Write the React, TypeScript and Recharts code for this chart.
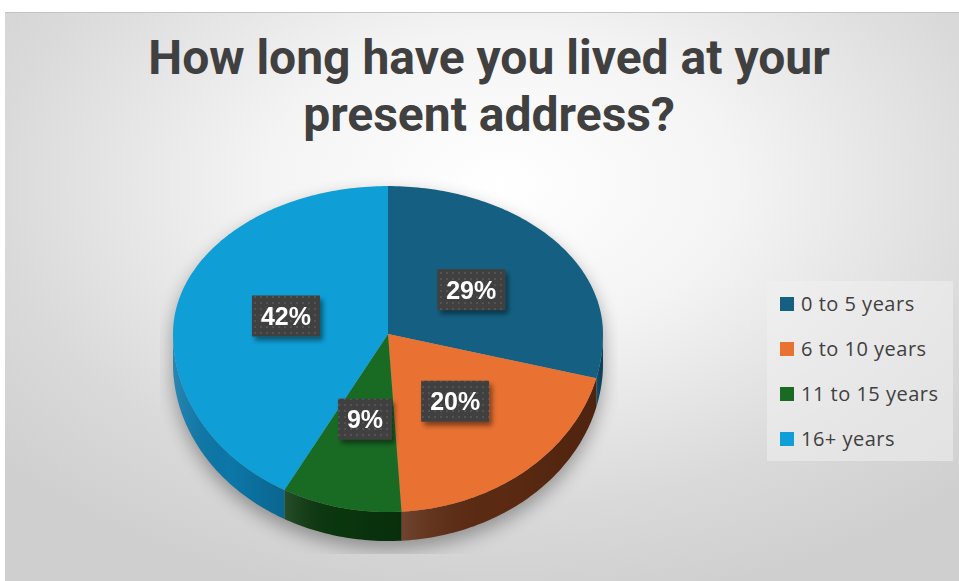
import { PieChart, Pie, Cell, Legend } from 'recharts';

const categories = ['0 to 5 years', '6 to 10 years', '11 to 15 years', '16+ years'];
const shares = [29, 20, 9, 42];
const titleLines = ['How long have you lived at your', 'present address?'];

const COLORS = ['#156082', '#E97132', '#196B24', '#0F9ED5'];
const SIDE_COLORS: Record<string, string> = {
  '#156082': '#0E4662',
  '#E97132': '#5C2A12',
  '#196B24': '#0A360D',
  '#0F9ED5': '#0C77A8',
};

const data = categories.map((name, i) => ({ name, value: shares[i] }));

// perspective squash: upper half flatter than lower half
const TOP = 0.688;
const BOT = 0.828;
const DEPTH = 29;

const pt = (cx: number, cy: number, r: number, deg: number) => {
  const rad = (deg * Math.PI) / 180;
  const s = Math.sin(rad);
  const ry = r * (s > 0 ? TOP : BOT);
  return [cx + r * Math.cos(rad), cy - ry * s];
};

const arcPts = (cx: number, cy: number, r: number, a: number, b: number) => {
  const out: number[][] = [];
  const n = Math.max(2, Math.ceil(Math.abs(b - a)));
  for (let i = 0; i <= n; i++) out.push(pt(cx, cy, r, a + ((b - a) * i) / n));
  return out;
};

const toPath = (p: number[][]) => p.map((q, i) => `${i ? 'L' : 'M'}${q[0].toFixed(2)},${q[1].toFixed(2)}`).join(' ');

const PieSlice = (props: any) => {
  const { cx, cy, outerRadius, startAngle, endAngle, fill } = props;
  const lo = Math.min(startAngle, endAngle);
  const hi = Math.max(startAngle, endAngle);
  const top = `M${cx},${cy} ` + toPath(arcPts(cx, cy, outerRadius, lo, hi)).replace('M', 'L') + ' Z';

  const sLo = Math.max(lo, -180);
  const sHi = Math.min(hi, 0);
  let side = '';
  if (sLo < sHi) {
    const upper = arcPts(cx, cy, outerRadius, sLo, sHi);
    const lower = upper.slice().reverse().map((q) => [q[0], q[1] + DEPTH]);
    side = toPath(upper.concat(lower)) + ' Z';
  }
  const first = hi >= 89.9;

  let outline = '';
  if (first) {
    const up = arcPts(cx, cy, outerRadius, 0, 180);
    const down = arcPts(cx, cy, outerRadius, 180, 360).map((q) => [q[0], q[1] + DEPTH]);
    outline = toPath(up.concat(down)) + ' Z';
  }

  return (
    <g>
      {first && (
        <g>
          <defs>
            <filter id="pieShadow" x="-20%" y="-20%" width="140%" height="140%">
              <feGaussianBlur stdDeviation="9" />
            </filter>
            <clipPath id="shadowClip">
              <rect x={cx - 228} y={cy - 240} width={458} height={460} />
            </clipPath>
            <pattern id="dots" width="6" height="6" patternUnits="userSpaceOnUse">
              <rect width="6" height="6" fill="#404040" />
              <circle cx="3" cy="3" r="0.9" fill="#5b5b5b" />
            </pattern>
            <filter id="boxShadow" x="-30%" y="-30%" width="160%" height="170%">
              <feGaussianBlur in="SourceAlpha" stdDeviation="2.5" />
              <feOffset dx="3" dy="4" result="b" />
              <feComponentTransfer>
                <feFuncA type="linear" slope="0.45" />
              </feComponentTransfer>
              <feMerge>
                <feMergeNode />
                <feMergeNode in="SourceGraphic" />
              </feMerge>
            </filter>
            <linearGradient id="sideShade" x1="0" y1="0" x2="1" y2="0">
              <stop offset="0" stopColor="#fff" stopOpacity="0.12" />
              <stop offset="0.5" stopColor="#000" stopOpacity="0" />
              <stop offset="1" stopColor="#000" stopOpacity="0.15" />
            </linearGradient>
          </defs>
          <g clipPath="url(#shadowClip)">
            <path
              d={outline}
              transform={`translate(0, 8)`}
              fill="#000"
              opacity={0.33}
              filter="url(#pieShadow)"
            />
          </g>
        </g>
      )}
      {side && <path d={side} fill={SIDE_COLORS[fill] || fill} />}
      {side && <path d={side} fill="url(#sideShade)" />}
      <path d={top} fill={fill} />
    </g>
  );
};

const SliceLabel = (props: any) => {
  const { cx, cy, midAngle, outerRadius, percent } = props;
  const [x, y] = pt(cx, cy, outerRadius * 0.49, midAngle);
  const txt = `${Math.round(percent * 100)}%`;
  const w = txt.length * 14 + 26;
  const h = 41;
  return (
    <g filter="url(#boxShadow)">
      <rect x={x - w / 2} y={y - h / 2} width={w} height={h} fill="url(#dots)" />
      <text
        x={x}
        y={y + 9}
        textAnchor="middle"
        fill="#ffffff"
        fontFamily="'Liberation Sans', Arial, sans-serif"
        fontWeight="bold"
        fontSize={25}
      >
        {txt}
      </text>
    </g>
  );
};

const LegendBox = () => (
  <div
    style={{
      width: 186,
      height: 180,
      background: 'rgba(240,240,240,0.55)',
      boxSizing: 'border-box',
      paddingLeft: 13,
    }}
  >
    {categories.map((name, i) => (
      <div key={name} style={{ display: 'flex', alignItems: 'center', height: 45 }}>
        <span style={{ width: 14, height: 14, background: COLORS[i], marginRight: 7, display: 'inline-block' }} />
        <span style={{ fontFamily: "'Open Sans', sans-serif", fontSize: 20, letterSpacing: 0.5, color: '#404040' }}>
          {name}
        </span>
      </div>
    ))}
  </div>
);

export default function App() {
  return (
    <div style={{ position: 'absolute', left: 0, top: 0, width: 959, height: 581, background: '#fff', overflow: 'hidden' }}>
      <div
        style={{
          position: 'absolute',
          left: 5,
          top: 12,
          width: 954,
          height: 569,
          borderTop: '1px solid #c4c4c4',
          background: 'radial-gradient(ellipse 70% 75% at 52% 30%, #ffffff 0%, #f4f4f4 35%, #dadada 75%, #cfcfcf 100%)',
        }}
      />
      {titleLines.map((t, i) => (
        <div
          key={i}
          style={{
            position: 'absolute',
            left: 0,
            width: 978,
            top: 30 + i * 57,
            textAlign: 'center',
            fontFamily: 'Roboto, sans-serif',
            fontWeight: 700,
            fontSize: 48,
            lineHeight: '56px',
            color: '#404040',
          }}
        >
          {t}
        </div>
      ))}
      <PieChart width={959} height={581} margin={{ top: 0, right: 0, bottom: 0, left: 0 }} style={{ position: 'absolute', left: 0, top: 0 }}>
        <Pie
          data={data}
          dataKey="value"
          nameKey="name"
          cx={388}
          cy={334}
          outerRadius={215}
          startAngle={90}
          endAngle={-270}
          stroke="none"
          shape={PieSlice}
          label={SliceLabel}
          labelLine={false}
          isAnimationActive={false}
        >
          {data.map((d, i) => (
            <Cell key={d.name} fill={COLORS[i]} />
          ))}
        </Pie>
        <Legend
          layout="vertical"
          align="right"
          verticalAlign="top"
          content={LegendBox}
          wrapperStyle={{ left: 767, top: 281, width: 186 }}
        />
      </PieChart>
    </div>
  );
}
